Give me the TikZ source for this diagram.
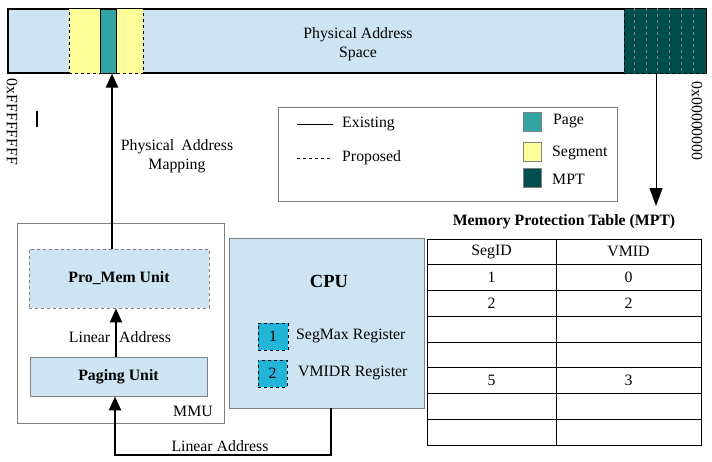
\documentclass[tikz,border=0pt]{standalone}
\usepackage{fontspec}
\setmainfont{Liberation Serif}
\usetikzlibrary{arrows.meta,positioning}
\definecolor{azulclaro}{RGB}{207,228,242}
\definecolor{amareloclaro}{RGB}{255,255,153}
\definecolor{verdepagina}{RGB}{51,164,164}
\definecolor{verdeescuro}{RGB}{0,77,77}
\definecolor{ciano}{RGB}{35,181,216}
\definecolor{cinzaborda}{RGB}{128,128,128}
\tikzset{
  caixa/.style={rectangle,draw=cinzaborda,line width=0.9pt,inner sep=0pt},
  unidade/.style={caixa,fill=azulclaro,font=\bfseries},
  registro/.style={rectangle,draw=black,dashed,fill=ciano,line width=0.8pt,
    minimum width=30pt,minimum height=27pt,inner sep=0pt},
  amostra/.style={rectangle,draw=cinzaborda,line width=0.8pt,
    minimum width=18pt,minimum height=19pt,inner sep=0pt},
  celula/.style={rectangle,draw=black,line width=0.9pt,minimum height=25.75pt,inner sep=0pt},
  texto/.style={inner sep=0pt,align=center},
  setagrossa/.style={-{Triangle[length=14pt,width=12pt]},line width=2.5pt},
  setafina/.style={-{Triangle[length=18pt,width=13pt]},line width=1pt}
}

\begin{document}
\fontsize{15.8}{18.5}\selectfont
\begin{tikzpicture}[x=1pt,y=-1pt]
  \useasboundingbox (0,0) rectangle (712,461);
  % espaco de enderecos fisicos
  \node[rectangle,draw=black,line width=1.2pt,fill=azulclaro,inner sep=0pt,
    minimum width=698pt,minimum height=64pt] (barra) at (357,41) {};
  \node[rectangle,draw=black,dashed,line width=0.9pt,fill=amareloclaro,inner sep=0pt,
    minimum width=74pt,minimum height=65pt] (segmento) at (106,41) {};
  \node[rectangle,draw=black,line width=1pt,fill=verdepagina,inner sep=0pt,
    minimum width=16pt,minimum height=64pt] (pagina) at (108,41) {};
  \node[rectangle,draw=black,dashed,line width=0.9pt,fill=verdeescuro,inner sep=0pt,
    minimum width=82pt,minimum height=65pt] (regiao) at (665,41) {};
  \foreach \x in {634,646,657,669,681,693}
    \draw[cinzaborda,dashed,line width=0.7pt] (regiao.north -| \x,0) -- (regiao.south -| \x,0);
  \node[texto] (espaco) at (358,44) {Physical Address\\Space};
  \node[texto,rotate=-90] (topo) at (12,122) {0xFFFFFFFF};
  \node[texto,rotate=-90] (base) at (697,121) {0x00000000};
  \draw[line width=2pt] (37,111) -- (37,127);

  % legenda
  \node[caixa,minimum width=339pt,minimum height=94pt] (legenda) at (447.5,154) {};
  \draw[line width=0.9pt] (297,124) -- (333,124);
  \draw[line width=0.9pt,dash pattern=on 3pt off 3pt] (297,158) -- (333,158);
  \node[texto,anchor=west] (existente) at (342,124) {Existing};
  \node[texto,anchor=west] (proposto) at (342,158) {Proposed};
  \node[amostra,fill=verdepagina] (apagina) at (532,122) {};
  \node[amostra,fill=amareloclaro] (asegmento) at (532,151.5) {};
  \node[amostra,fill=verdeescuro] (ampt) at (532,178) {};
  \node[texto,anchor=west] (lpagina) at (553,121) {Page};
  \node[texto,anchor=west] (lsegmento) at (552,153) {Segment};
  \node[texto,anchor=west] (lmpt) at (552,179) {MPT};

  % MMU
  \node[caixa,minimum width=207pt,minimum height=200pt] (mmu) at (120.5,323) {};
  \node[unidade,dashed,minimum width=180pt,minimum height=59pt] (promem) at (119,278.5) {Pro\_Mem Unit};
  \node[unidade,minimum width=177pt,minimum height=39pt] (paginacao) at (118.5,376.5) {Paging Unit};
  \node[texto] (lmmu) at (193,411) {MMU};
  \draw[setagrossa] (paginacao.north -| 116,0) -- (promem.south -| 116,0);
  \node[texto] (linear1) at (120,337.5) {Linear\hspace{9pt}Address};
  \draw[setagrossa] (promem.north -| 112,0) -- (barra.south -| 112,0);
  \node[texto] (mapeamento) at (177,156) {Physical\hspace{7pt}Address\\Mapping};

  % CPU
  \node[caixa,fill=azulclaro,minimum width=195pt,minimum height=170pt] (cpu) at (326.5,323) {};
  \node[texto,font=\bfseries\fontsize{18.5}{20}\selectfont] (lcpu) at (329,281) {CPU};
  \node[registro] (reg1) at (273,336.5) {1};
  \node[registro,minimum width=29pt] (reg2) at (272.5,373.5) {2};
  \node[texto,anchor=west] (segmax) at (296,336) {SegMax Register};
  \node[texto,anchor=west] (vmidr) at (298,373) {VMIDR Register};
  \draw[setagrossa] (cpu.south -| 331,0) |- (115,455) -- (paginacao.south -| 115,0);
  \node[texto] (linear2) at (220,446) {Linear Address};

  % tabela MPT
  \coordinate (fimseta) at (656,206);
  \draw[setafina] (regiao.south -| 656,0) -- (fimseta);
  \node[texto,font=\bfseries] (titulo) at (564,222) {Memory Protection Table (MPT)};
  \foreach \a/\b [count=\i] in {SegID/VMID,1/0,2/2,{}/{},{}/{},5/3,{}/{},{}/{}}
    {\node[celula,minimum width=129pt] (c\i a) at (491.5,{239+(\i-0.5)*25.75}) {\a};
     \node[celula,minimum width=145pt] (c\i b) at (628.5,{239+(\i-0.5)*25.75}) {\b};}
\end{tikzpicture}
\end{document}
